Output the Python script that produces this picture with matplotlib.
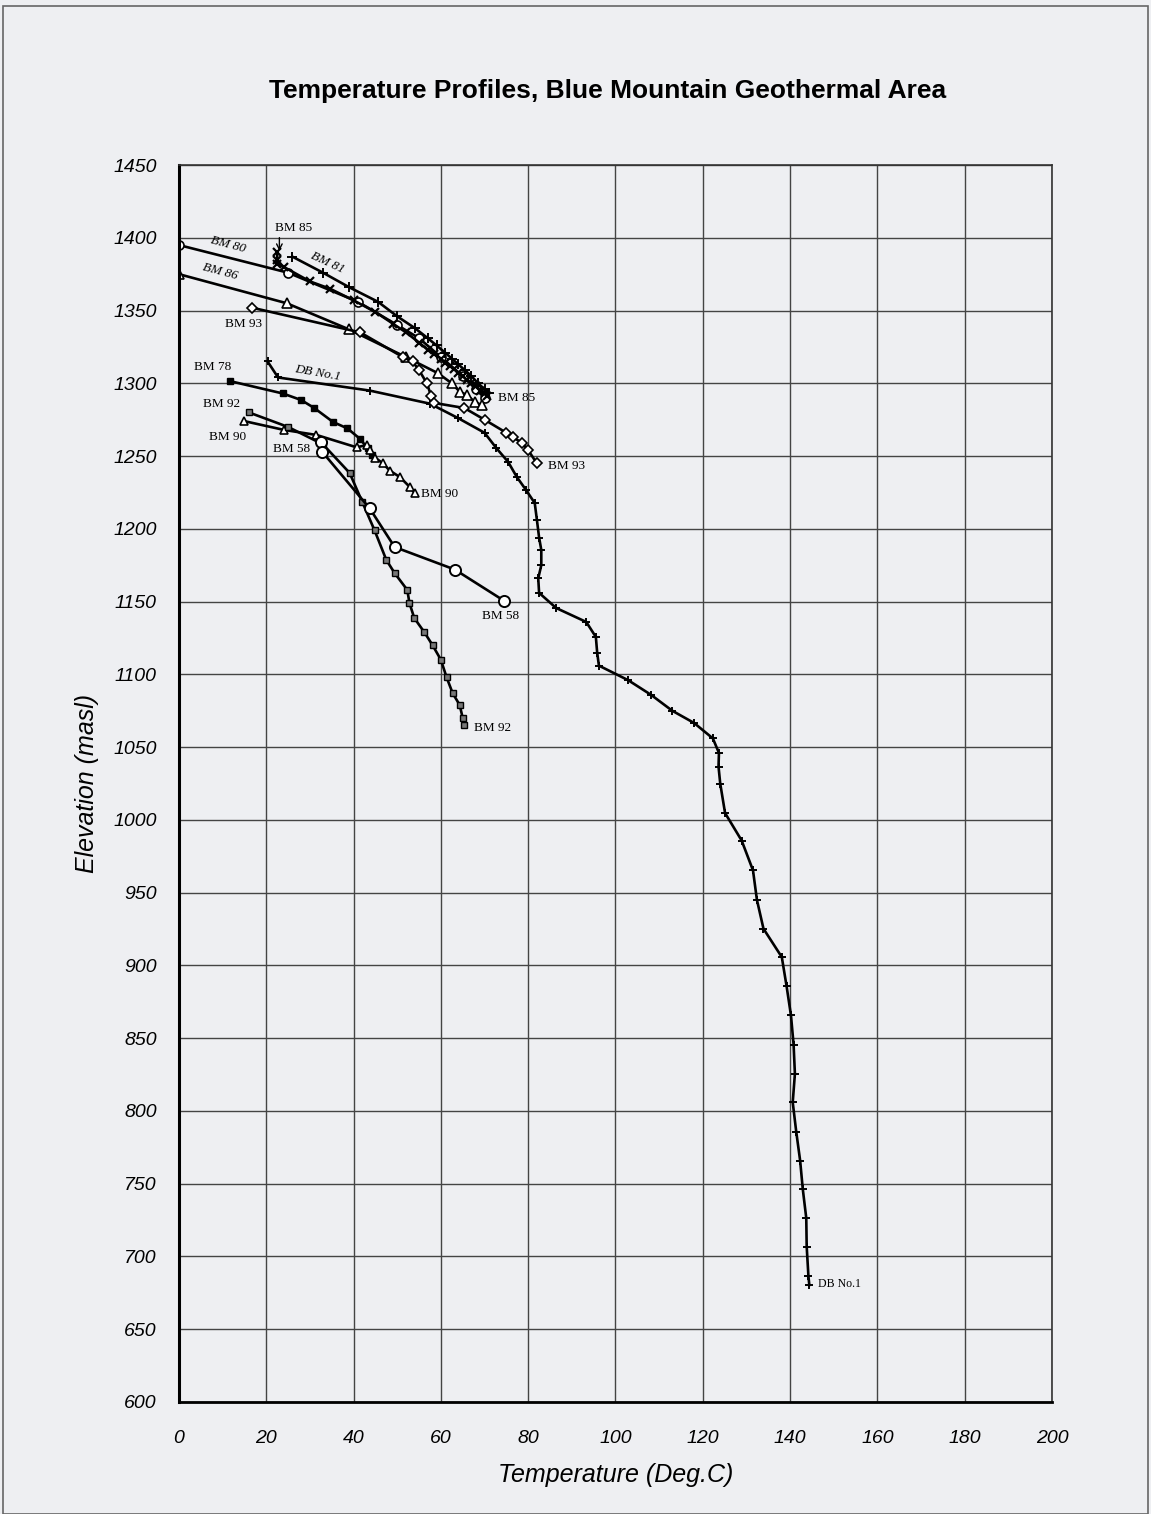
import matplotlib
matplotlib.use("Agg")
import matplotlib.pyplot as plt
from matplotlib.patches import Rectangle

# temperature (deg C) and elevation (masl) per well
bm80_t = [0, 25, 41, 50, 55, 60, 65, 68, 70]
bm80_e = [1395, 1376, 1356, 1340, 1331, 1318, 1305, 1296, 1290]

bm81_t = [26, 33, 39, 45.6, 50, 54, 57, 59, 61, 62.5, 64, 65.5, 67, 68.5, 70, 71]
bm81_e = [1387, 1376, 1366, 1356, 1346, 1338, 1331, 1326, 1321, 1317, 1313, 1309, 1305, 1300, 1296, 1293]

bm85_t = [22.5, 22.5, 22.5, 24, 30, 34.6, 40, 45, 49, 52, 55, 57, 58.5, 60, 61, 62, 63, 64,
          65, 66, 67, 68, 69, 70, 70.5]
bm85_e = [1390, 1385, 1382, 1380, 1370, 1365, 1357, 1349, 1341, 1335, 1328, 1323, 1320, 1317,
          1314, 1312, 1310, 1307, 1305, 1302, 1300, 1298, 1295, 1293, 1291]

bm86_t = [0, 24.7, 39, 52, 59.3, 62.5, 64.4, 66, 67.8, 69.4]
bm86_e = [1375, 1355, 1337, 1318, 1307, 1300, 1294, 1292, 1287, 1285]

bm93_t = [16.7, 41.5, 51.3, 53.5, 55, 56.8, 57.8, 58.5, 65.4, 70, 75, 76.5, 78.6, 80, 82]
bm93_e = [1352, 1335, 1318, 1315, 1309, 1300, 1291, 1286.5, 1283, 1275, 1266, 1263, 1259, 1254, 1245]

bm78_t = [11.7, 23.8, 28, 31, 35.3, 38.6, 41.4, 43.2, 44.3]
bm78_e = [1301.5, 1293, 1288.5, 1283, 1273.4, 1269, 1262, 1255.5, 1250.7]

bm90_t = [15, 24, 31.5, 40.7, 43, 43.7, 44.9, 46.7, 48.3, 50.6, 52.9, 54]
bm90_e = [1274, 1268, 1264.5, 1256, 1257.6, 1254, 1249, 1245, 1240, 1235.6, 1228.7, 1224.6]

bm92_t = [16, 25, 33, 39.1, 42, 44.8, 47.5, 49.4, 52.3, 52.8, 53.9, 56.2, 58.1, 60, 61.3,
          62.7, 64.3, 65, 65.4]
bm92_e = [1280, 1270, 1258, 1238.4, 1218.4, 1199, 1178.6, 1169.6, 1158, 1149, 1138.7, 1129,
          1120, 1110, 1098, 1087, 1079, 1070, 1065]

bm58_t = [32.5, 32.8, 43.7, 49.4, 63.2, 74.5]
bm58_e = [1260, 1253, 1214, 1187.5, 1172, 1150.5]

db1_t = [20.3, 22.7, 43.7, 57.5, 64, 70, 72.7, 75.4, 77.4, 79.5, 81.5, 82, 82.5, 83, 83, 82.3,
         82.5, 86.4, 93.3, 95.5, 95.8, 96.2, 102.9, 108.2, 113, 118, 122.3, 123.7, 123.6, 124,
         125.1, 128.9, 131.5, 132.4, 133.9, 138.1, 139.2, 140.2, 140.8, 141.1, 140.6, 141.4,
         142.3, 142.9, 143.7, 143.8, 144.2, 144.4]
db1_e = [1315, 1304, 1295, 1286, 1276, 1266, 1255.5, 1246, 1235.6, 1226.7, 1217.7, 1206, 1194,
         1185.5, 1175, 1166, 1156, 1145.6, 1136, 1125.7, 1115, 1106, 1096, 1085.8, 1075, 1066.6,
         1056, 1046, 1036.6, 1024.8, 1004.7, 985.8, 965.3, 945, 925.2, 905.7, 885.6, 865.6,
         845.5, 825.5, 805.9, 785.8, 765.8, 746.4, 726.4, 706.8, 686.3, 680.4]

x_ticks = list(range(0, 201, 20))
y_ticks = list(range(600, 1451, 50))

bg = "#eeeff2"
fig = plt.figure(figsize=(11.51, 15.14), dpi=100, facecolor=bg)
ax = fig.add_axes([0.1555, 0.074, 0.7585, 0.817])
ax.set_facecolor(bg)

line_kw = dict(color="black", lw=1.9)
ax.plot(db1_t, db1_e, marker="+", ms=5.5, mew=1.4, **line_kw)
ax.plot(bm80_t, bm80_e, marker="o", ms=6.5, mfc="white", mew=1.2, **line_kw)
ax.plot(bm81_t, bm81_e, marker="+", ms=7, mew=1.4, **line_kw)
ax.plot(bm85_t, bm85_e, marker="x", ms=6, mew=1.6, **line_kw)
ax.plot(bm86_t, bm86_e, marker="^", ms=6.5, mfc="white", mew=1.2, **line_kw)
ax.plot(bm93_t, bm93_e, marker="D", ms=5, mfc="white", mew=1.2, **line_kw)
ax.plot(bm78_t, bm78_e, marker="s", ms=4, **line_kw)
ax.plot(bm90_t, bm90_e, marker="^", ms=6, mfc="white", mew=1.2, **line_kw)
ax.plot(bm92_t, bm92_e, marker="s", ms=4, mfc="#777777", mew=1.0, **line_kw)
ax.plot(bm58_t, bm58_e, marker="o", ms=8, mfc="white", mew=1.4, **line_kw)

ax.set_xlim(0, 200)
ax.set_ylim(600, 1450)
ax.set_xticks(x_ticks)
ax.set_yticks(y_ticks)
ax.grid(True, color="#444444", lw=1.0)
ax.set_axisbelow(True)
ax.tick_params(length=0, labelsize=14)
ax.tick_params(axis="x", pad=20)
ax.tick_params(axis="y", pad=16)
for lab in ax.get_xticklabels() + ax.get_yticklabels():
    lab.set_fontstyle("italic")
    lab.set_fontfamily("Liberation Sans")
for s in ax.spines.values():
    s.set_color("#333333")
    s.set_linewidth(1.2)
ax.spines["left"].set_color("black")
ax.spines["left"].set_linewidth(2.2)
ax.spines["bottom"].set_color("black")
ax.spines["bottom"].set_linewidth(2.0)

ax.set_xlabel("Temperature (Deg.C)", fontsize=18, fontstyle="italic",
              family="Liberation Sans", labelpad=12)
ax.set_ylabel("Elevation (masl)", fontsize=18, fontstyle="italic",
              family="Liberation Sans", labelpad=10)
fig.text(0.528, 0.940, "Temperature Profiles, Blue Mountain Geothermal Area",
         ha="center", va="center", fontsize=19, fontweight="bold", family="Liberation Sans")

# well labels written on the plot
lab_kw = dict(fontsize=9.5, family="Liberation Serif", color="black")
ax.text(22, 1407, "BM 85", ha="left", va="center", **lab_kw)
ax.annotate("", xy=(23, 1389), xytext=(23, 1402),
            arrowprops=dict(arrowstyle="->", color="black", lw=1.0))
ax.text(11.2, 1395, "BM 80", ha="center", va="center", rotation=-15, style="italic", **lab_kw)
ax.text(34, 1383, "BM 81", ha="center", va="center", rotation=-25, style="italic", **lab_kw)
ax.text(9.4, 1376.5, "BM 86", ha="center", va="center", rotation=-15, style="italic", **lab_kw)
ax.text(14.7, 1340.7, "BM 93", ha="center", va="center", **lab_kw)
ax.text(7.8, 1311, "BM 78", ha="center", va="center", **lab_kw)
ax.text(31.8, 1307, "DB No.1", ha="center", va="center", rotation=-10, style="italic", **lab_kw)
ax.text(9.8, 1285.7, "BM 92", ha="center", va="center", **lab_kw)
ax.text(11.2, 1263, "BM 90", ha="center", va="center", **lab_kw)
ax.text(25.9, 1255, "BM 58", ha="center", va="center", **lab_kw)
ax.text(73, 1290, "BM 85", ha="left", va="center", **lab_kw)
ax.text(84.5, 1243, "BM 93", ha="left", va="center", **lab_kw)
ax.text(55.5, 1224, "BM 90", ha="left", va="center", **lab_kw)
ax.text(69.5, 1140, "BM 58", ha="left", va="center", **lab_kw)
ax.text(67.5, 1063, "BM 92", ha="left", va="center", **lab_kw)
ax.text(146.5, 681, "DB No.1", ha="left", va="center", fontsize=8.5,
        family="Liberation Serif")

# scanned page border
fig.patches.append(Rectangle((0.003, 0.0), 0.994, 0.996, transform=fig.transFigure,
                             fill=False, edgecolor="#666666", lw=1.2))

fig.savefig("out.png", dpi=100, facecolor=bg)
